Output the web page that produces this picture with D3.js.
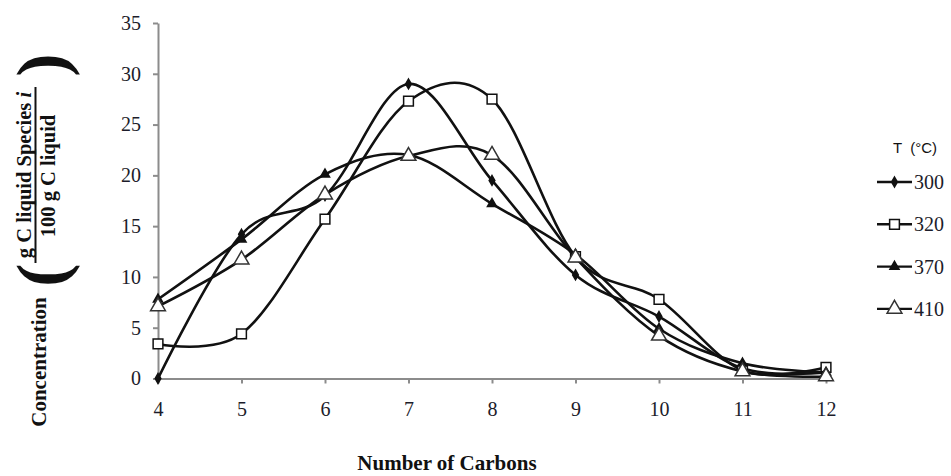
<!DOCTYPE html>
<html>
<head>
<meta charset="utf-8">
<script src="https://cdn.jsdelivr.net/npm/d3@7/dist/d3.min.js"></script>
<style>
  html, body { margin: 0; padding: 0; background: #fff; }
  svg { display: block; }
</style>
</head>
<body>
<svg id="chart" width="951" height="476"></svg>
<script>
// Carbon-number distribution of liquid products at four temperatures
const carbons = [4, 5, 6, 7, 8, 9, 10, 11, 12];
const yTicks = [0, 5, 10, 15, 20, 25, 30, 35];
const temps = ["300", "320", "370", "410"];
const conc300 = [0.0, 14.2, 18.0, 29.0, 19.5, 10.2, 6.1, 1.0, 0.6];
const conc320 = [3.4, 4.4, 15.7, 27.3, 27.5, 12.0, 7.8, 0.8, 1.1];
const conc370 = [7.8, 13.7, 20.1, 22.0, 17.2, 12.2, 4.9, 1.5, 0.6];
const conc410 = [7.1, 11.7, 18.1, 21.9, 22.0, 11.9, 4.2, 0.7, 0.2];

const series = [
  { name: temps[0], values: conc300, symbol: d3.symbolDiamond, size: 28, fill: "#111", stroke: "#111" },
  { name: temps[1], values: conc320, symbol: d3.symbolSquare, size: 95, fill: "#fff", stroke: "#111" },
  { name: temps[2], values: conc370, symbol: d3.symbolTriangle, size: 36, fill: "#111", stroke: "#111" },
  { name: temps[3], values: conc410, symbol: d3.symbolTriangle, size: 95, fill: "#fff", stroke: "#333" }
];

const svg = d3.select("#chart");
const serif = "'Liberation Serif', 'Times New Roman', serif";

const x = d3.scaleLinear().domain([4, 12]).range([158, 826]);
const y = d3.scaleLinear().domain([0, 35]).range([378.5, 23]);

// Axes
const gx = svg.append("g")
  .attr("transform", `translate(0,${y(0)})`)
  .call(d3.axisBottom(x).tickValues(carbons).tickFormat(d3.format("d")).tickSize(5).tickSizeOuter(0).tickPadding(18));
const gy = svg.append("g")
  .attr("transform", `translate(${x(4)},0)`)
  .call(d3.axisLeft(y).tickValues(yTicks).tickFormat(d3.format("d")).tickSize(5).tickSizeOuter(0).tickPadding(12));

[gx, gy].forEach(g => {
  g.select(".domain").attr("stroke", "#8c8c8c").attr("stroke-width", 2);
  g.selectAll(".tick line").attr("stroke", "#8c8c8c").attr("stroke-width", 2);
  g.selectAll(".tick text")
    .attr("font-family", serif).attr("font-size", 20).attr("fill", "#1c1c2a");
});

// Smoothed series lines and markers
const line = d3.line()
  .x((d, i) => x(carbons[i]))
  .y(d => y(d))
  .curve(d3.curveCardinal.tension(0));

series.forEach(s => {
  const g = svg.append("g");
  g.append("path")
    .attr("d", line(s.values))
    .attr("fill", "none")
    .attr("stroke", "#111")
    .attr("stroke-width", 2.6);
  g.selectAll("path.m")
    .data(s.values)
    .join("path")
    .attr("class", "m")
    .attr("transform", (d, i) => `translate(${x(carbons[i])},${y(d)})`)
    .attr("d", d3.symbol().type(s.symbol).size(s.size))
    .attr("fill", s.fill)
    .attr("stroke", s.stroke)
    .attr("stroke-width", 1.5);
});

// Legend
const legend = svg.append("g");
legend.append("text")
  .attr("x", 893).attr("y", 153)
  .attr("font-family", "'Liberation Sans', Arial, sans-serif")
  .attr("font-size", 15)
  .attr("fill", "#111")
  .attr("xml:space", "preserve")
  .text("T  (\u00B0C)");
series.forEach((s, i) => {
  const ly = 182 + i * 42.3;
  legend.append("line")
    .attr("x1", 877).attr("x2", 912).attr("y1", ly).attr("y2", ly)
    .attr("stroke", "#111").attr("stroke-width", 2.4);
  legend.append("path")
    .attr("transform", `translate(894.5,${ly})`)
    .attr("d", d3.symbol().type(s.symbol).size(s.size))
    .attr("fill", s.fill).attr("stroke", s.stroke).attr("stroke-width", 1.5);
  legend.append("text")
    .attr("x", 914).attr("y", ly + 7)
    .attr("font-family", serif).attr("font-size", 20)
    .attr("fill", "#1c1c2a")
    .text(s.name);
});

// X axis title
svg.append("text")
  .attr("x", 447).attr("y", 470)
  .attr("text-anchor", "middle")
  .attr("font-family", serif).attr("font-size", 21).attr("font-weight", "bold")
  .attr("fill", "#111")
  .text("Number of Carbons");

// Y axis title: Concentration ( g C liquid Species i / 100 g C liquid )
const yt = svg.append("g").attr("font-family", serif).attr("font-weight", "bold").attr("fill", "#111");
yt.append("text")
  .attr("transform", "translate(46,362) rotate(-90)")
  .attr("text-anchor", "middle").attr("font-size", 21)
  .text("Concentration");
yt.append("text")
  .attr("transform", "translate(65,275) rotate(-90)")
  .attr("text-anchor", "middle").attr("font-size", 70)
  .text("(");
yt.append("text")
  .attr("transform", "translate(65,65) rotate(-90)")
  .attr("text-anchor", "middle").attr("font-size", 70)
  .text(")");
const num = yt.append("text")
  .attr("transform", "translate(31,175) rotate(-90)")
  .attr("text-anchor", "middle").attr("font-size", 20.5);
num.append("tspan").text("g C liquid Species ");
num.append("tspan").attr("font-style", "italic").text("i");
yt.append("line")
  .attr("x1", 35.5).attr("x2", 35.5).attr("y1", 87).attr("y2", 263)
  .attr("stroke", "#111").attr("stroke-width", 2);
yt.append("text")
  .attr("transform", "translate(55,176) rotate(-90)")
  .attr("text-anchor", "middle").attr("font-size", 20.5)
  .text("100 g C liquid");
</script>
</body>
</html>
